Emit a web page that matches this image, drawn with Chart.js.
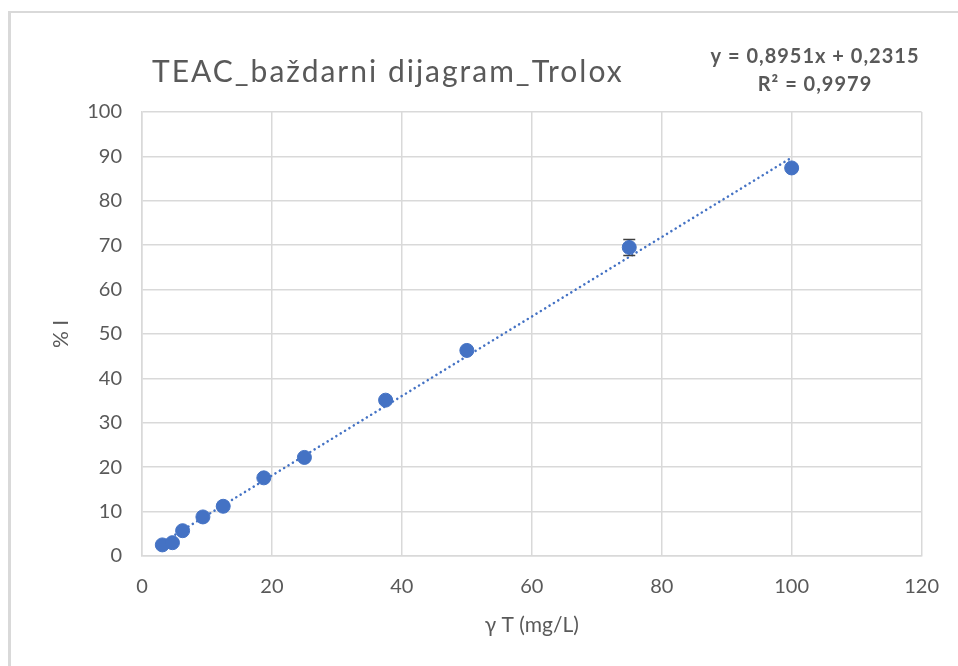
<!DOCTYPE html>
<html>
<head>
<meta charset="utf-8">
<script src="https://cdn.jsdelivr.net/npm/chart.js@4.4.1/dist/chart.umd.min.js"></script>
<style>
  html, body { margin: 0; padding: 0; background: #fff; }
  #wrap { position: relative; width: 958px; height: 666px; overflow: hidden; }
  #frame {
    position: absolute; left: 8px; top: 11px; width: 1000px; height: 700px;
    border-left: 3px solid #d9d9d9; border-top: 2px solid #d9d9d9;
  }
  canvas { position: absolute; left: 0; top: 0; }
</style>
</head>
<body>
<div id="wrap">
  <div id="frame"></div>
  <canvas id="chart" width="958" height="666"></canvas>
</div>
<script>
// --- data ---
const concentrations = [3.125, 4.6875, 6.25, 9.375, 12.5, 18.75, 25, 37.5, 50, 75, 100];
const inhibition = [2.5, 3.0, 5.7, 8.8, 11.2, 17.6, 22.2, 35.1, 46.3, 69.5, 87.4];
const inhibitionErr = [0, 0, 0, 0, 0, 0, 0, 0, 0, 1.8, 0];
// linear trendline endpoints (y = 0,8951x + 0,2315)
const trendX = [3.125, 100];
const trendY = [3.03, 89.74];
const xTicks = [0, 20, 40, 60, 80, 100, 120];
const yTicks = [0, 10, 20, 30, 40, 50, 60, 70, 80, 90, 100];

const chartTitle = 'TEAC_baždarni dijagram_Trolox';
const equationLines = ['y = 0,8951x + 0,2315', 'R² = 0,9979'];

const textColor = '#595959';
const blue = '#4472C4';
const gridColor = '#d9d9d9';
const fontFamily = 'Lato, "Open Sans", sans-serif';

// error bars (only the 75 mg/L point has one visible)
const errorBarPlugin = {
    id: 'errorBars',
    beforeDatasetDraw(chart, args) {
        if (args.index !== 1) return;
        const { ctx, scales: { x, y } } = chart;
        ctx.save();
        ctx.strokeStyle = '#404040';
        ctx.lineWidth = 1.5;
        concentrations.forEach((c, i) => {
            const e = inhibitionErr[i];
            if (!e) return;
            const px = x.getPixelForValue(c);
            const top = y.getPixelForValue(inhibition[i] + e);
            const bot = y.getPixelForValue(inhibition[i] - e);
            ctx.beginPath();
            ctx.moveTo(px, top); ctx.lineTo(px, bot);
            ctx.moveTo(px - 6, top); ctx.lineTo(px + 6, top);
            ctx.moveTo(px - 6, bot); ctx.lineTo(px + 6, bot);
            ctx.stroke();
        });
        ctx.restore();
    }
};

// chart title and trendline label
const labelsPlugin = {
    id: 'labels',
    afterDraw(chart) {
        const { ctx } = chart;
        ctx.save();
        ctx.fillStyle = textColor;
        ctx.textBaseline = 'middle';
        ctx.textAlign = 'left';
        ctx.font = '30px ' + fontFamily;
        ctx.letterSpacing = '2px';
        ctx.fillText(chartTitle, 152, 72);

        ctx.textAlign = 'center';
        ctx.font = 'bold 20px ' + fontFamily;
        ctx.letterSpacing = '1px';
        ctx.fillText(equationLines[0], 815, 57);
        ctx.fillText(equationLines[1], 815, 85);
        ctx.restore();
    }
};

new Chart(document.getElementById('chart'), {
    type: 'scatter',
    data: {
        datasets: [
            {
                type: 'line',
                label: 'Linear trend',
                data: trendX.map((v, i) => ({ x: v, y: trendY[i] })),
                borderColor: blue,
                borderWidth: 2.5,
                borderDash: [0.1, 5],
                borderCapStyle: 'round',
                pointRadius: 0,
                fill: false,
                order: 2
            },
            {
                label: '% I',
                data: concentrations.map((v, i) => ({ x: v, y: inhibition[i] })),
                backgroundColor: blue,
                borderColor: blue,
                pointRadius: 7,
                pointHoverRadius: 7,
                order: 1
            }
        ]
    },
    options: {
        responsive: false,
        animation: false,
        layout: { padding: { left: 0, top: 112, right: 36, bottom: 0 } },
        plugins: {
            legend: { display: false },
            tooltip: { enabled: false }
        },
        scales: {
            x: {
                type: 'linear',
                min: 0, max: 120,
                afterBuildTicks: s => { s.ticks = xTicks.map(v => ({ value: v })); },
                afterFit: s => { s.height = 110; },
                grid: { color: gridColor, lineWidth: 1.5, drawTicks: false },
                border: { color: gridColor, width: 1.5 },
                ticks: { color: textColor, font: { family: fontFamily, size: 20 }, padding: 19 },
                title: {
                    display: true, text: 'γ T (mg/L)', color: textColor,
                    font: { family: fontFamily, size: 21 }, padding: { top: 0, bottom: 28 }
                }
            },
            y: {
                type: 'linear',
                min: 0, max: 100,
                afterBuildTicks: s => { s.ticks = yTicks.map(v => ({ value: v })); },
                afterFit: s => { s.width = 142; },
                grid: { color: gridColor, lineWidth: 1.5, drawTicks: false },
                border: { color: gridColor, width: 1.5 },
                ticks: { color: textColor, font: { family: fontFamily, size: 20 }, padding: 20 },
                title: {
                    display: true, text: '% I', color: textColor,
                    font: { family: fontFamily, size: 21 }, padding: { top: 49, bottom: 0 }
                }
            }
        }
    },
    plugins: [errorBarPlugin, labelsPlugin]
});
</script>
</body>
</html>
